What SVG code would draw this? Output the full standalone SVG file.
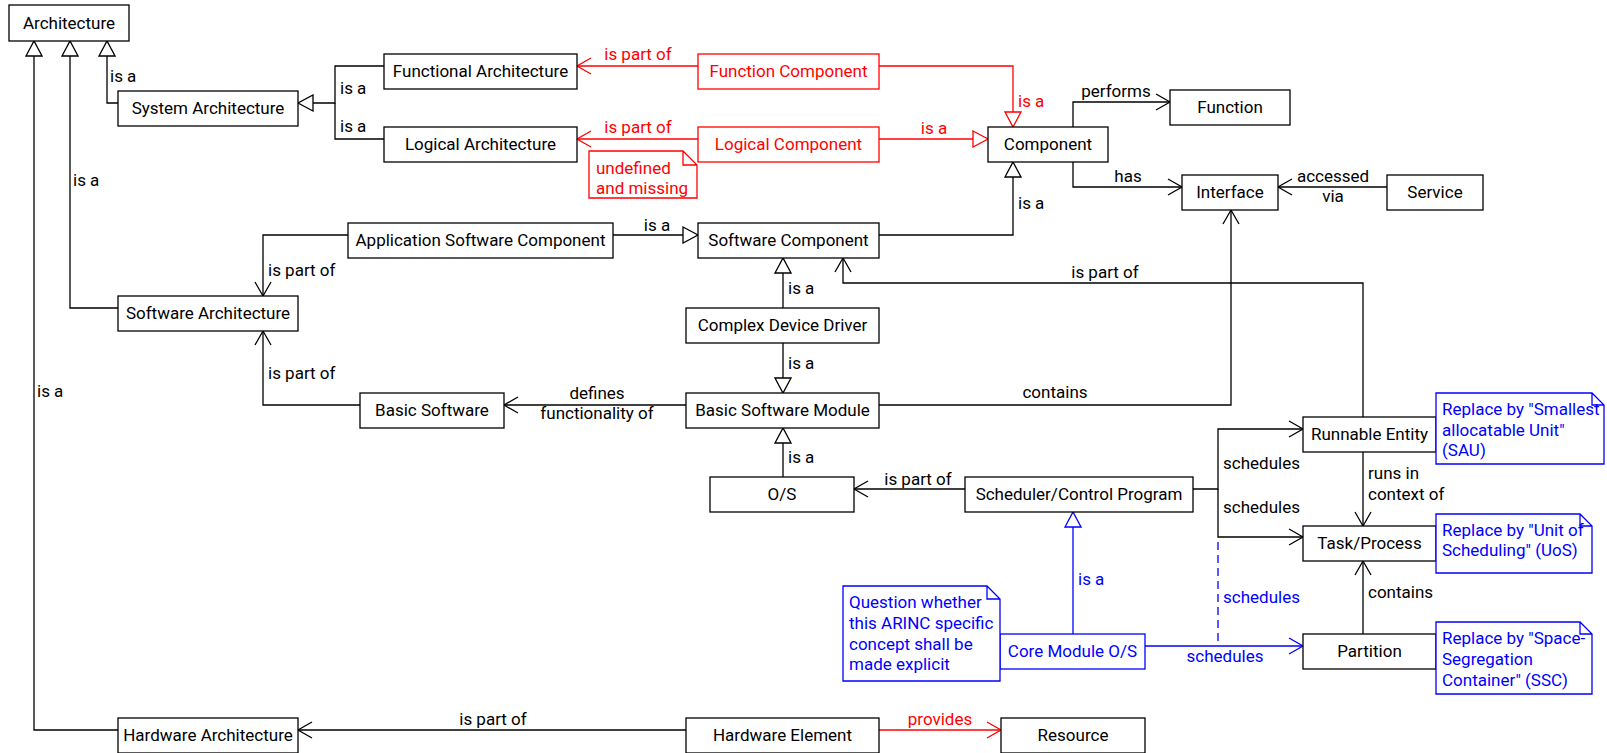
<svg xmlns="http://www.w3.org/2000/svg" width="1607" height="753" viewBox="0 0 1607 753">
<style>
.b{fill:#fff;stroke:#000;stroke-width:1.3}
.br{fill:#fff;stroke:#f00;stroke-width:1.3}
.bb{fill:#fff;stroke:#00f;stroke-width:1.3}
text{font-family:Roboto,"Liberation Sans",sans-serif;font-size:17px;fill:#000}
.m{text-anchor:middle}
.r{fill:#f00}
.u{fill:#00f}
.e{fill:none;stroke:#000;stroke-width:1.3}
.er{fill:none;stroke:#f00;stroke-width:1.3}
.eb{fill:none;stroke:#00f;stroke-width:1.3}
.d{stroke-dasharray:8 5}
</style>
<defs>
<marker id="tri" markerUnits="userSpaceOnUse" markerWidth="18" markerHeight="18" viewBox="0 0 18 18" refX="16" refY="9" orient="auto"><path d="M1,1 L16,9 L1,17 Z" fill="#fff" stroke="#000" stroke-width="1.3"/></marker>
<marker id="triR" markerUnits="userSpaceOnUse" markerWidth="18" markerHeight="18" viewBox="0 0 18 18" refX="16" refY="9" orient="auto"><path d="M1,1 L16,9 L1,17 Z" fill="#fff" stroke="#f00" stroke-width="1.3"/></marker>
<marker id="triB" markerUnits="userSpaceOnUse" markerWidth="18" markerHeight="18" viewBox="0 0 18 18" refX="16" refY="9" orient="auto"><path d="M1,1 L16,9 L1,17 Z" fill="#fff" stroke="#00f" stroke-width="1.3"/></marker>
<marker id="op" markerUnits="userSpaceOnUse" markerWidth="18" markerHeight="18" viewBox="0 0 18 18" refX="15" refY="9" orient="auto"><path d="M1,1 L15,9 L1,17" fill="none" stroke="#000" stroke-width="1.3"/></marker>
<marker id="opR" markerUnits="userSpaceOnUse" markerWidth="18" markerHeight="18" viewBox="0 0 18 18" refX="15" refY="9" orient="auto"><path d="M1,1 L15,9 L1,17" fill="none" stroke="#f00" stroke-width="1.3"/></marker>
<marker id="opB" markerUnits="userSpaceOnUse" markerWidth="18" markerHeight="18" viewBox="0 0 18 18" refX="15" refY="9" orient="auto"><path d="M1,1 L15,9 L1,17" fill="none" stroke="#00f" stroke-width="1.3"/></marker>
</defs>

<g id="connectors">
<path class="e" d="M118,103 H107 V41" marker-end="url(#tri)"/>
<text x="110" y="82">is a</text>
<path class="e" d="M118,308 H70 V41" marker-end="url(#tri)"/>
<text x="73" y="186">is a</text>
<path class="e" d="M118,730 H34 V41" marker-end="url(#tri)"/>
<text x="37" y="397">is a</text>
<path class="e" d="M384,66 H335 V103 H298" marker-end="url(#tri)"/>
<text x="340" y="94">is a</text>
<path class="e" d="M384,139 H335 V103"/>
<text x="340" y="132">is a</text>
<path class="er" d="M698,66 H577" marker-end="url(#opR)"/>
<text class="m r" x="638" y="60">is part of</text>
<path class="er" d="M698,139 H577" marker-end="url(#opR)"/>
<text class="m r" x="638" y="133">is part of</text>
<path class="er" d="M879,66 H1013 V127" marker-end="url(#triR)"/>
<text class="r" x="1018" y="107">is a</text>
<path class="er" d="M879,139 H988" marker-end="url(#triR)"/>
<text class="m r" x="934" y="134">is a</text>
<path class="e" d="M1073,127 V102 H1170" marker-end="url(#op)"/>
<text class="m" x="1116" y="97">performs</text>
<path class="e" d="M1073,162 V187 H1182" marker-end="url(#op)"/>
<text class="m" x="1128" y="182">has</text>
<path class="e" d="M1387,187 H1278" marker-end="url(#op)"/>
<text class="m" x="1333" y="182">accessed</text>
<text class="m" x="1333" y="202">via</text>
<path class="e" d="M879,235 H1013 V162" marker-end="url(#tri)"/>
<text x="1018" y="209">is a</text>
<path class="e" d="M613,235 H698" marker-end="url(#tri)"/>
<text class="m" x="657" y="231">is a</text>
<path class="e" d="M348,235 H263 V296" marker-end="url(#op)"/>
<text x="268" y="276">is part of</text>
<path class="e" d="M360,405 H263 V331" marker-end="url(#op)"/>
<text x="268" y="379">is part of</text>
<path class="e" d="M783,308 V258" marker-end="url(#tri)"/>
<text x="788" y="294">is a</text>
<path class="e" d="M783,343 V393" marker-end="url(#tri)"/>
<text x="788" y="369">is a</text>
<path class="e" d="M686,405 H504" marker-end="url(#op)"/>
<text class="m" x="597" y="399">defines</text>
<text class="m" x="597" y="419">functionality of</text>
<path class="e" d="M879,405 H1231 V210" marker-end="url(#op)"/>
<text class="m" x="1055" y="398">contains</text>
<path class="e" d="M1363,417 V283 H843 V258" marker-end="url(#op)"/>
<text class="m" x="1105" y="278">is part of</text>
<path class="e" d="M965,489 H854" marker-end="url(#op)"/>
<text class="m" x="918" y="485">is part of</text>
<path class="e" d="M783,477 V428" marker-end="url(#tri)"/>
<text x="788" y="463">is a</text>
<path class="e" d="M1193,489 H1218 V429 H1303" marker-end="url(#op)"/>
<text x="1223" y="469">schedules</text>
<path class="e" d="M1218,489 V537 H1303" marker-end="url(#op)"/>
<text x="1223" y="513">schedules</text>
<path class="e" d="M1363,452 V526" marker-end="url(#op)"/>
<text x="1368" y="479">runs in</text>
<text x="1368" y="500">context of</text>
<path class="e" d="M1363,634 V561" marker-end="url(#op)"/>
<text x="1368" y="598">contains</text>
<path class="eb" d="M1073,634 V512" marker-end="url(#triB)"/>
<text class="u" x="1078" y="585">is a</text>
<path class="eb" d="M1145,646 H1303" marker-end="url(#opB)"/>
<text class="m u" x="1225" y="662">schedules</text>
<path class="eb d" d="M1218,542 V646"/>
<text class="u" x="1223" y="603">schedules</text>
<path class="e" d="M686,730 H298" marker-end="url(#op)"/>
<text class="m" x="493" y="725">is part of</text>
<path class="er" d="M879,730 H1001" marker-end="url(#opR)"/>
<text class="m r" x="940" y="725">provides</text>
</g>

<g id="architecture"><rect class="b" x="9" y="5" width="120" height="36"/><text class="m" x="69" y="29">Architecture</text></g>
<g id="system-architecture"><rect class="b" x="118" y="91" width="180" height="35"/><text class="m" x="208" y="114">System Architecture</text></g>
<g id="functional-architecture"><rect class="b" x="384" y="54" width="193" height="35"/><text class="m" x="480.5" y="77">Functional Architecture</text></g>
<g id="logical-architecture"><rect class="b" x="384" y="127" width="193" height="35"/><text class="m" x="480.5" y="150">Logical Architecture</text></g>
<g id="function-component"><rect class="br" x="698" y="54" width="181" height="35"/><text class="m r" x="788.5" y="77">Function Component</text></g>
<g id="logical-component"><rect class="br" x="698" y="127" width="181" height="35"/><text class="m r" x="788.5" y="150">Logical Component</text></g>
<g id="note-undefined"><path class="br" d="M589,151 H683 L697,165 V198 H589 Z M683,151 V165 H697"/><text class="r" x="596" y="174">undefined</text><text class="r" x="596" y="194">and missing</text></g>
<g id="component"><rect class="b" x="988" y="127" width="120" height="35"/><text class="m" x="1048" y="150">Component</text></g>
<g id="function"><rect class="b" x="1170" y="90" width="120" height="35"/><text class="m" x="1230" y="113">Function</text></g>
<g id="interface"><rect class="b" x="1182" y="175" width="96" height="35"/><text class="m" x="1230" y="198">Interface</text></g>
<g id="service"><rect class="b" x="1387" y="175" width="96" height="35"/><text class="m" x="1435" y="198">Service</text></g>
<g id="application-software-component"><rect class="b" x="348" y="223" width="265" height="35"/><text class="m" x="480.5" y="246">Application Software Component</text></g>
<g id="software-component"><rect class="b" x="698" y="223" width="181" height="35"/><text class="m" x="788.5" y="246">Software Component</text></g>
<g id="software-architecture"><rect class="b" x="118" y="296" width="180" height="35"/><text class="m" x="208" y="319">Software Architecture</text></g>
<g id="complex-device-driver"><rect class="b" x="686" y="308" width="193" height="35"/><text class="m" x="782.5" y="331">Complex Device Driver</text></g>
<g id="basic-software"><rect class="b" x="360" y="393" width="144" height="35"/><text class="m" x="432" y="416">Basic Software</text></g>
<g id="basic-software-module"><rect class="b" x="686" y="393" width="193" height="35"/><text class="m" x="782.5" y="416">Basic Software Module</text></g>
<g id="os"><rect class="b" x="710" y="477" width="144" height="35"/><text class="m" x="782" y="500">O/S</text></g>
<g id="scheduler"><rect class="b" x="965" y="477" width="228" height="35"/><text class="m" x="1079" y="500">Scheduler/Control Program</text></g>
<g id="runnable-entity"><rect class="b" x="1303" y="417" width="133" height="35"/><text class="m" x="1369.5" y="440">Runnable Entity</text></g>
<g id="task-process"><rect class="b" x="1303" y="526" width="133" height="35"/><text class="m" x="1369.5" y="549">Task/Process</text></g>
<g id="partition"><rect class="b" x="1303" y="634" width="133" height="35"/><text class="m" x="1369.5" y="657">Partition</text></g>
<g id="note-sau"><path class="bb" d="M1436,393 H1592 L1604,405 V464 H1436 Z M1592,393 V405 H1604"/><text class="u" x="1442" y="415">Replace by "Smallest</text><text class="u" x="1442" y="436">allocatable Unit"</text><text class="u" x="1442" y="456">(SAU)</text></g>
<g id="note-uos"><path class="bb" d="M1436,514 H1580 L1592,526 V573 H1436 Z M1580,514 V526 H1592"/><text class="u" x="1442" y="536">Replace by "Unit of</text><text class="u" x="1442" y="556">Scheduling" (UoS)</text></g>
<g id="note-ssc"><path class="bb" d="M1436,622 H1580 L1592,634 V694 H1436 Z M1580,622 V634 H1592"/><text class="u" x="1442" y="644">Replace by "Space-</text><text class="u" x="1442" y="665">Segregation</text><text class="u" x="1442" y="686">Container" (SSC)</text></g>
<g id="core-module-os"><rect class="bb" x="1000" y="634" width="145" height="35"/><text class="m u" x="1072.5" y="657">Core Module O/S</text></g>
<g id="note-question"><path class="bb" d="M843,586 H987 L1000,599 V681 H843 Z M987,586 V599 H1000"/><text class="u" x="849" y="608">Question whether</text><text class="u" x="849" y="629">this ARINC specific</text><text class="u" x="849" y="650">concept shall be</text><text class="u" x="849" y="670">made explicit</text></g>
<g id="hardware-architecture"><rect class="b" x="118" y="718" width="180" height="35"/><text class="m" x="208" y="741">Hardware Architecture</text></g>
<g id="hardware-element"><rect class="b" x="686" y="718" width="193" height="35"/><text class="m" x="782.5" y="741">Hardware Element</text></g>
<g id="resource"><rect class="b" x="1001" y="718" width="144" height="35"/><text class="m" x="1073" y="741">Resource</text></g>
</svg>
